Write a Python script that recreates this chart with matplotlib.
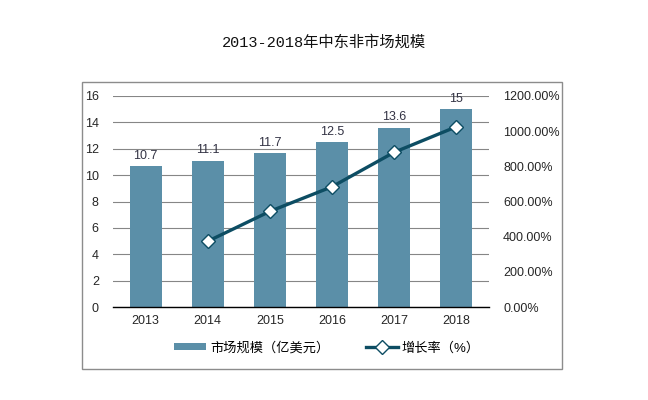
import matplotlib.pyplot as plt
from matplotlib.patches import Rectangle
from matplotlib.ticker import FuncFormatter

plt.rcParams["font.family"] = ["Liberation Sans", "Noto Sans CJK SC", "DejaVu Sans"]

YEARS = ["2013", "2014", "2015", "2016", "2017", "2018"]
MARKET_SIZE = [10.7, 11.1, 11.7, 12.5, 13.6, 15]
GROWTH_YEARS = ["2014", "2015", "2016", "2017", "2018"]
GROWTH_RATE = [374, 544, 684, 880, 1025]

BAR_COLOR = "#5b8fa8"
LINE_COLOR = "#0d4d63"
TEXT_COLOR = "#262626"


def main() -> None:
    fig = plt.figure(figsize=(6.48, 4.0), dpi=100)

    # outer frame
    fig.patches.append(
        Rectangle((0.1265, 0.0775), 0.741, 0.7175, transform=fig.transFigure,
                  fill=False, edgecolor="#8c8c8c", linewidth=1.0)
    )

    fig.text(0.5, 0.895, "2013-2018年中东非市场规模", ha="center", va="center",
             fontsize=11, color="#111111",
             family=["Liberation Mono", "Noto Sans CJK SC"])

    ax = fig.add_axes([0.174, 0.2325, 0.581, 0.5275])
    positions = list(range(len(YEARS)))
    bars = ax.bar(positions, MARKET_SIZE, width=0.51, color=BAR_COLOR,
                  label="市场规模（亿美元）", zorder=2)
    for bar, value in zip(bars, MARKET_SIZE):
        ax.annotate(f"{value:g}", xy=(bar.get_x() + bar.get_width() / 2, value),
                    xytext=(0, 3), textcoords="offset points", ha="center",
                    va="bottom", fontsize=9, color="#333344")

    ax.set_ylim(0, 16)
    ax.set_yticks(range(0, 17, 2))
    ax.set_xlim(-0.53, len(YEARS) - 0.47)
    ax.set_xticks(positions)
    ax.set_xticklabels(YEARS)
    ax.grid(axis="y", color="#868686", linewidth=0.8, zorder=0)
    ax.set_axisbelow(True)
    for side in ("top", "right", "left"):
        ax.spines[side].set_visible(False)
    ax.spines["bottom"].set_color("#000000")
    ax.spines["bottom"].set_linewidth(1.0)
    ax.tick_params(axis="both", length=0, labelsize=9, colors=TEXT_COLOR)
    ax.tick_params(axis="x", pad=6)
    ax.tick_params(axis="y", pad=10)

    ax2 = ax.twinx()
    growth_pos = [YEARS.index(y) for y in GROWTH_YEARS]
    ax2.plot(growth_pos, GROWTH_RATE, color=LINE_COLOR, linewidth=2.4,
             marker="D", markersize=7, markerfacecolor="white",
             markeredgecolor=LINE_COLOR, markeredgewidth=1.0,
             label="增长率（%）", zorder=3)
    ax2.set_ylim(0, 1200)
    ax2.set_yticks(range(0, 1201, 200))
    ax2.yaxis.set_major_formatter(FuncFormatter(lambda v, _p: f"{v:.2f}%"))
    for side in ("top", "right", "left", "bottom"):
        ax2.spines[side].set_visible(False)
    ax2.tick_params(axis="y", length=0, labelsize=9, colors=TEXT_COLOR, pad=10)

    handles = [bars, ax2.get_lines()[0]]
    labels = ["市场规模（亿美元）", "增长率（%）"]
    fig.legend(handles, labels, loc="center", bbox_to_anchor=(0.505, 0.13),
               ncol=2, frameon=False, fontsize=9.5, handlelength=2.4,
               handleheight=0.5, columnspacing=2.8, handletextpad=0.3)

    fig.savefig("out.png", dpi=100)
    plt.close(fig)


if __name__ == "__main__":
    main()
